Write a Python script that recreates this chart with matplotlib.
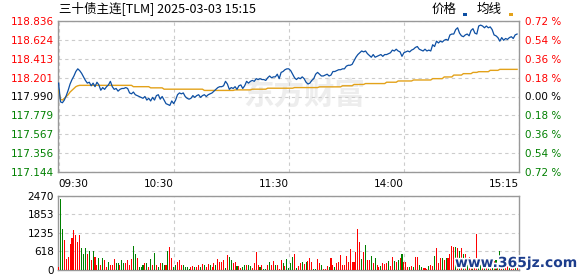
"""
三十债主连 分时图 (价格 / 均线 / 成交量)
"""

import numpy as np
import matplotlib
matplotlib.use('Agg')
import matplotlib.pyplot as plt
import matplotlib.patheffects as pe
from matplotlib.patches import Rectangle

plt.rcParams['font.family'] = ['DejaVu Sans']
CJK = ['Noto Sans CJK SC', 'DejaVu Sans']

TITLE = '三十债主连[TLM] 2025-03-03 15:15'
TIME_TICKS = [0, 60, 120, 180, 240]
TIME_LABELS = ['09:30', '10:30', '11:30', '14:00', '15:15']
PRICE_TICKS = [117.144, 117.356, 117.567, 117.779, 117.990,
               118.201, 118.413, 118.624, 118.836]
PRICE_LABELS = ['117.144', '117.356', '117.567', '117.779', '117.990',
                '118.201', '118.413', '118.624', '118.836']
PCT_LABELS = ['0.72 %', '0.54 %', '0.36 %', '0.18 %', '0.00 %',
              '0.18 %', '0.36 %', '0.54 %', '0.72 %']
PRE_CLOSE = 117.990
VOL_TICKS = [0, 618, 1235, 1853, 2470]
VOL_LABELS = ['0', '618', '1235', '1853', '2470']

# 分钟价格
PRICE = [
    118.14, 117.93, 117.92, 117.95, 118.00, 118.06, 118.13, 118.18, 118.22, 118.27,
    118.30, 118.28, 118.25, 118.21, 118.17, 118.14, 118.15, 118.11, 118.14, 118.10,
    118.15, 118.12, 118.06, 118.09, 118.07, 118.10, 118.12, 118.16, 118.10, 118.07,
    118.08, 118.05, 118.07, 118.08, 118.08, 118.09, 118.08, 118.03, 118.02, 118.04,
    118.01, 118.00, 117.99, 117.98, 117.97, 117.99, 117.95, 117.97, 117.94, 117.98,
    117.95, 118.00, 118.01, 117.96, 117.99, 117.95, 117.91, 117.90, 117.89, 117.94,
    117.91, 117.95, 118.01, 118.03, 118.02, 118.03, 117.99, 117.97, 117.96, 117.97,
    118.00, 117.98, 118.00, 118.01, 117.98, 118.00, 118.01, 117.99, 118.01, 118.02,
    118.03, 118.05, 118.07, 118.09, 118.10, 118.10, 118.11, 118.16, 118.13, 118.07,
    118.09, 118.08, 118.10, 118.07, 118.11, 118.12, 118.08, 118.11, 118.16, 118.14,
    118.16, 118.17, 118.16, 118.19, 118.18, 118.19, 118.18, 118.18, 118.17, 118.20,
    118.22, 118.20, 118.21, 118.21, 118.24, 118.19, 118.26, 118.27, 118.29, 118.30,
    118.30, 118.28, 118.24, 118.20, 118.18, 118.20, 118.19, 118.21, 118.19, 118.15,
    118.13, 118.14, 118.17, 118.19, 118.24, 118.26, 118.24, 118.22, 118.22, 118.23,
    118.24, 118.22, 118.23, 118.27, 118.27, 118.28, 118.29, 118.29, 118.30, 118.30,
    118.33, 118.34, 118.34, 118.35, 118.39, 118.43, 118.46, 118.48, 118.50, 118.49,
    118.50, 118.47, 118.45, 118.43, 118.46, 118.43, 118.44, 118.45, 118.46, 118.44,
    118.46, 118.46, 118.47, 118.48, 118.51, 118.50, 118.52, 118.50, 118.49, 118.44,
    118.48, 118.49, 118.50, 118.49, 118.51, 118.52, 118.54, 118.55, 118.52, 118.51,
    118.50, 118.52, 118.50, 118.51, 118.50, 118.57, 118.55, 118.61, 118.59, 118.61,
    118.60, 118.62, 118.63, 118.62, 118.68, 118.69, 118.69, 118.74, 118.76, 118.70,
    118.67, 118.66, 118.68, 118.69, 118.67, 118.73, 118.75, 118.70, 118.69, 118.78,
    118.79, 118.78, 118.76, 118.78, 118.76, 118.77, 118.74, 118.68, 118.67, 118.65,
    118.61, 118.65, 118.62, 118.64, 118.63, 118.65, 118.66, 118.64, 118.68, 118.69,
]

# 均价
AVG = [
    118.060, 117.960, 117.950, 117.970, 117.990, 118.010, 118.040, 118.060, 118.080, 118.100,
    118.110, 118.115, 118.115, 118.115, 118.115, 118.115, 118.115, 118.115, 118.115, 118.115,
    118.115, 118.115, 118.115, 118.115, 118.115, 118.115, 118.115, 118.115, 118.115, 118.115,
    118.115, 118.115, 118.115, 118.115, 118.115, 118.115, 118.115, 118.115, 118.115, 118.100,
    118.100, 118.100, 118.100, 118.100, 118.100, 118.100, 118.100, 118.100, 118.087, 118.087,
    118.087, 118.087, 118.087, 118.087, 118.087, 118.072, 118.072, 118.072, 118.072, 118.072,
    118.072, 118.072, 118.072, 118.072, 118.072, 118.072, 118.072, 118.072, 118.072, 118.072,
    118.072, 118.072, 118.072, 118.072, 118.072, 118.072, 118.058, 118.058, 118.058, 118.058,
    118.058, 118.058, 118.058, 118.058, 118.058, 118.058, 118.058, 118.058, 118.058, 118.058,
    118.058, 118.058, 118.064, 118.064, 118.064, 118.064, 118.064, 118.064, 118.064, 118.064,
    118.064, 118.072, 118.072, 118.072, 118.072, 118.072, 118.072, 118.072, 118.072, 118.083,
    118.083, 118.083, 118.083, 118.083, 118.083, 118.083, 118.083, 118.083, 118.083, 118.083,
    118.083, 118.083, 118.083, 118.090, 118.090, 118.090, 118.090, 118.090, 118.090, 118.090,
    118.090, 118.090, 118.090, 118.090, 118.090, 118.090, 118.098, 118.098, 118.098, 118.098,
    118.098, 118.098, 118.098, 118.098, 118.098, 118.098, 118.098, 118.098, 118.110, 118.110,
    118.110, 118.110, 118.110, 118.110, 118.125, 118.125, 118.125, 118.125, 118.125, 118.125,
    118.135, 118.135, 118.135, 118.135, 118.135, 118.135, 118.135, 118.135, 118.135, 118.135,
    118.135, 118.150, 118.150, 118.150, 118.150, 118.150, 118.150, 118.164, 118.164, 118.164,
    118.164, 118.164, 118.164, 118.164, 118.164, 118.175, 118.175, 118.175, 118.175, 118.175,
    118.175, 118.175, 118.175, 118.175, 118.175, 118.190, 118.190, 118.190, 118.190, 118.190,
    118.190, 118.209, 118.209, 118.209, 118.209, 118.209, 118.230, 118.230, 118.230, 118.230,
    118.230, 118.246, 118.246, 118.246, 118.246, 118.246, 118.260, 118.260, 118.260, 118.268,
    118.268, 118.268, 118.268, 118.268, 118.268, 118.283, 118.283, 118.283, 118.283, 118.283,
    118.294, 118.294, 118.294, 118.294, 118.294, 118.294, 118.294, 118.294, 118.294, 118.294,
]

# 成交量
VOLUME = [
    90, 2355, 1380, 1005, 355, 435, 870, 1075, 1350, 1155,
    940, 1180, 730, 525, 730, 525, 640, 320, 640, 435,
    183, 390, 183, 390, 320, 115, 275, 183, 160, 355,
    240, 240, 183, 320, 217, 217, 320, 183, 355, 790,
    525, 390, 115, 90, 160, 240, 240, 115, 355, 160,
    560, 183, 115, 240, 217, 160, 183, 620, 755, 400,
    115, 183, 275, 320, 183, 160, 90, 115, 46, 90,
    137, 115, 115, 160, 90, 206, 160, 115, 206, 183,
    90, 240, 160, 354, 274, 251, 343, 69, 491, 434,
    320, 240, 274, 149, 149, 69, 91, 171, 171, 171,
    149, 69, 240, 594, 183, 91, 171, 46, 46, 160,
    251, 171, 286, 183, 183, 46, 320, 217, 149, 354,
    69, 217, 434, 525, 69, 126, 217, 251, 206, 251,
    297, 389, 251, 46, 46, 354, 217, 183, 46, 46,
    126, 91, 389, 183, 91, 217, 251, 491, 183, 183,
    457, 251, 697, 274, 274, 594, 1383, 926, 354, 594,
    834, 343, 320, 457, 217, 411, 183, 90, 150, 217,
    206, 229, 297, 150, 434, 297, 274, 320, 411, 525,
    251, 251, 90, 90, 137, 90, 434, 434, 160, 90,
    60, 69, 46, 126, 160, 120, 457, 731, 229, 411,
    411, 320, 411, 390, 549, 811, 754, 777, 731, 640,
    731, 549, 525, 300, 430, 250, 200, 350, 1200, 345,
    290, 235, 300, 250, 200, 350, 250, 300, 330, 250,
    620, 235, 300, 235, 200, 260, 235, 300, 250, 235,
]
# r = 涨 (红), g = 跌 (绿)
VOL_DIR = (
    'rggrrrrrrr' 'rrgggrgrgr' 'rgrgrrgrrr' 'ggrggrrrrg'
    'grgggrgrgr' 'grgrggrgrr' 'ggrrrggggr' 'rgrrgrgrrg'
    'rrgrrrrgrg' 'grrgrrggrg' 'grrrrgrggr' 'grrgrrrgrg'
    'gggrgrrgrg' 'rrrggrrgrr' 'rgrrgrrrrr' 'rrrrrrrrgr'
    'grrgrgrrgr' 'rrgrrgrgrg' 'rrrgrgrrgg' 'rrrgrrgrrr'
    'grgrrrrgrg' 'rgrgrrgrrg' 'grgrgrgrgr' 'grgrrgrrgr'
)

BLUE = '#0d4fa3'
ORANGE = '#e3a21a'
RED = '#ff0000'
GREEN = '#008000'
GRID = '#cccccc'
BORDER = '#999999'
W, H = 578, 276


def style_box(a):
    for s in a.spines.values():
        s.set_color(BORDER)
        s.set_linewidth(1.0)
    a.grid(True, color=GRID, linestyle=(0, (3, 3)), linewidth=0.8)
    a.set_axisbelow(True)


def main():
    x = np.arange(len(PRICE))

    fig = plt.figure(figsize=(W / 100, H / 100), dpi=100)
    ax = fig.add_axes([58 / W, 104 / H, 461 / W, 151 / H])
    axv = fig.add_axes([58 / W, 6 / H, 461 / W, 74 / H])

    # ── 价格 ──────────────────────────────
    ax.text(0.535, 0.51, '东方财富', transform=ax.transAxes, fontsize=22,
            weight='bold', style='italic', color='#ededed', ha='center',
            va='center', family=CJK, zorder=0)
    ax.plot(x, AVG, color=ORANGE, lw=1.0, zorder=3)
    ax.plot(x, PRICE, color=BLUE, lw=0.9, zorder=4)
    ax.set_xlim(-0.3, 240)
    ax.set_ylim(PRICE_TICKS[0], PRICE_TICKS[-1])
    ax.set_yticks(PRICE_TICKS)
    ax.set_yticklabels(PRICE_LABELS)
    ax.set_xticks(TIME_TICKS)
    ax.set_xticklabels(TIME_LABELS)
    ax.tick_params(axis='both', length=0, labelsize=7.5)
    ax.tick_params(axis='y', pad=3)
    ax.tick_params(axis='x', pad=5)
    for i, lab in enumerate(ax.get_xticklabels()):
        lab.set_ha('left' if i == 0 else 'right')
    style_box(ax)

    axr = ax.twinx()
    axr.set_ylim(ax.get_ylim())
    axr.set_yticks(PRICE_TICKS)
    axr.set_yticklabels(PCT_LABELS)
    axr.tick_params(axis='y', length=0, labelsize=7.5, pad=4)
    for s in axr.spines.values():
        s.set_visible(False)

    for t, la, lb in zip(PRICE_TICKS, ax.get_yticklabels(), axr.get_yticklabels()):
        c = RED if t > PRE_CLOSE + 1e-6 else (GREEN if t < PRE_CLOSE - 1e-6 else 'black')
        la.set_color(c)
        lb.set_color(c)

    # ── 成交量 ──────────────────────────────
    colors = [RED if d == 'r' else GREEN for d in VOL_DIR]
    axv.bar(x, VOLUME, width=0.55, color=colors, linewidth=0,
            antialiased=False, zorder=3)
    axv.set_xlim(-0.3, 240)
    axv.set_ylim(VOL_TICKS[0], VOL_TICKS[-1])
    axv.set_yticks(VOL_TICKS)
    axv.set_yticklabels(VOL_LABELS)
    axv.set_xticks(TIME_TICKS[1:-1])
    axv.set_xticklabels([])
    axv.tick_params(axis='both', length=0, labelsize=7.5)
    axv.tick_params(axis='y', pad=3)
    style_box(axv)

    # ── 标题 / 图例 ──────────────────────────
    fig.text(59 / W, 1 - 8 / H, TITLE, fontsize=9, family=CJK,
             ha='left', va='center')
    fig.text(432 / W, 1 - 9 / H, '价格', fontsize=9, family=CJK,
             ha='left', va='center')
    fig.text(477 / W, 1 - 9 / H, '均线', fontsize=9, family=CJK,
             ha='left', va='center')
    fig.add_artist(Rectangle((463 / W, 1 - 16 / H), 4 / W, 3 / H,
                             transform=fig.transFigure, color=BLUE, lw=0))
    fig.add_artist(Rectangle((509 / W, 1 - 16 / H), 4 / W, 3 / H,
                             transform=fig.transFigure, color=ORANGE, lw=0))

    fig.text(455 / W, 1 - 263 / H, 'www.365jz.com', fontsize=10,
             weight='bold', color='#1c3d8c', ha='left', va='center',
             path_effects=[pe.withStroke(linewidth=2.5, foreground='white')])

    fig.savefig('out.png', dpi=100)
    plt.close(fig)


if __name__ == '__main__':
    main()
